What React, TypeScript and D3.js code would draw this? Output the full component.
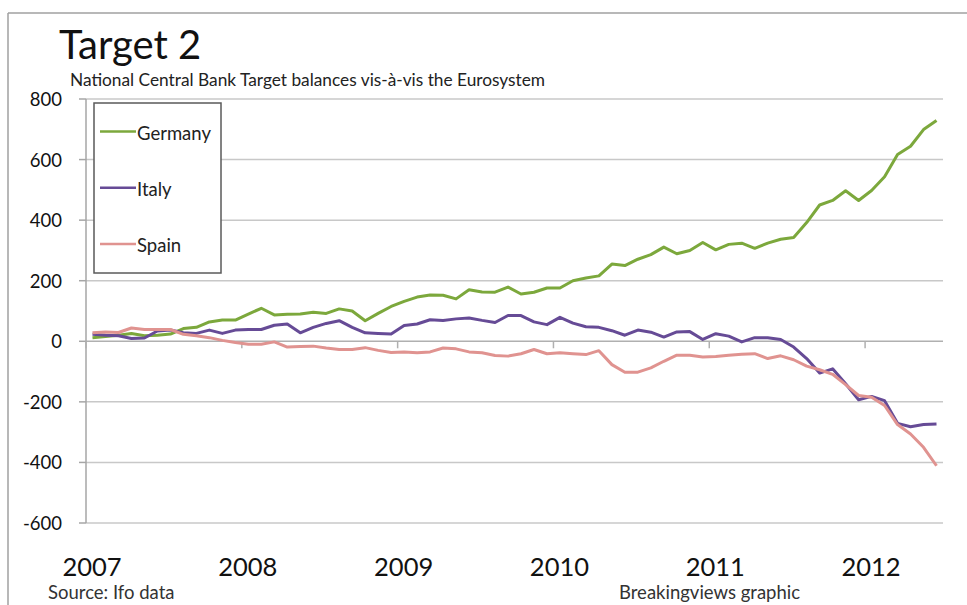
import React from "react";
import * as d3 from "d3";

const germany = [12, 16, 20, 26, 18, 20, 24, 42, 46, 64, 70, 70, 90, 109, 87, 89, 90, 96, 92, 107, 100, 68, 92, 115,
  132, 146, 153, 152, 140, 170, 163, 162, 179, 156, 162, 176, 176, 200, 209, 216, 255, 250, 271, 286, 311, 289, 300, 326,
  302, 320, 324, 307, 324, 337, 343, 392, 450, 465, 497, 465, 498, 543, 617, 644, 699, 729];
const italy = [23, 20, 18, 9, 11, 34, 37, 28, 26, 37, 26, 37, 39, 39, 53, 57, 28, 46, 59, 68, 46, 28, 26, 24,
  52, 57, 71, 69, 74, 77, 69, 62, 85, 85, 64, 55, 79, 60, 48, 46, 35, 20, 37, 30, 14, 31, 32, 6,
  25, 17, -2, 12, 12, 6, -19, -57, -105, -91, -140, -193, -182, -196, -271, -282, -275, -273];
const spain = [28, 31, 29, 44, 39, 39, 39, 23, 18, 12, 3, -4, -10, -10, -2, -19, -17, -16, -22, -27, -27, -21, -30, -37,
  -35, -38, -35, -22, -25, -35, -38, -47, -49, -41, -27, -41, -38, -41, -44, -31, -77, -102, -102, -88, -66, -46, -46, -52,
  -50, -46, -43, -41, -57, -48, -61, -82, -94, -109, -143, -179, -185, -212, -275, -306, -350, -411];

const seriesNames = ["Germany", "Italy", "Spain"];
const seriesColors = ["#7ca83c", "#664b96", "#e09390"];
const yearLabels = ["2007", "2008", "2009", "2010", "2011", "2012"];
const yTicks = [800, 600, 400, 200, 0, -200, -400, -600];

const title = "Target 2";
const subtitle = "National Central Bank Target balances vis-à-vis the Eurosystem";
const source = "Source: Ifo data";
const credit = "Breakingviews graphic";

const months = d3.timeMonth.range(new Date(2007, 0, 1), new Date(2012, 6, 1));

export default function App() {
  const W = 967, H = 605;
  const left = 86, right = 943, top = 99, bottom = 523;
  const font = "Lato, 'Open Sans', sans-serif";

  const x = d3.scaleBand<Date>().domain(months).range([left, right]).paddingInner(0).paddingOuter(0);
  const bw = x.bandwidth();
  const y = d3.scaleLinear().domain([-600, 800]).range([bottom, top]);

  const line = d3
    .line<number>()
    .x((_, i) => (x(months[i]) as number) + bw / 2)
    .y((d) => y(d));

  const data = [germany, italy, spain];
  const yearStarts = yearLabels.map((yr) => new Date(+yr, 0, 1));

  return (
    <svg width={W} height={H} style={{ position: "absolute", left: 0, top: 0, background: "#fff" }}>
      <rect x={0} y={0} width={W} height={H} fill="#fff" />
      {/* frame */}
      <line x1={8} y1={13} x2={W} y2={13} stroke="#a0a0a0" strokeWidth={1.5} />
      <line x1={8} y1={13} x2={8} y2={H} stroke="#a0a0a0" strokeWidth={1.5} />

      <text x={59} y={59} fontFamily={font} fontSize={40} fill="#111">{title}</text>
      <text x={70} y={86} fontFamily={font} fontSize={17.3} fill="#222">{subtitle}</text>

      {/* gridlines */}
      {yTicks.map((t) => (
        <g key={t}>
          <line x1={left} x2={right} y1={y(t)} y2={y(t)} stroke={t === 0 ? "#b0b0b0" : "#c8c8c8"} strokeWidth={1.5} />
          <line x1={left - 7} x2={left} y1={y(t)} y2={y(t)} stroke="#a6a6a6" strokeWidth={1.5} />
          <text x={62} y={y(t)} textAnchor="end" dominantBaseline="central" fontFamily={font} fontSize={18.5} fill="#111">
            {t}
          </text>
        </g>
      ))}
      {/* y axis */}
      <line x1={left} x2={left} y1={top} y2={bottom} stroke="#a6a6a6" strokeWidth={1.5} />
      {/* year ticks on zero line */}
      {yearStarts.map((d, i) => (
        <g key={i}>
          <line x1={x(d)} x2={x(d)} y1={y(0)} y2={y(0) + 7} stroke="#b0b0b0" strokeWidth={1.5} />
          <text x={(x(d) as number) + 6} y={576} textAnchor="middle" fontFamily={font} fontSize={25.5} fill="#111">
            {yearLabels[i]}
          </text>
        </g>
      ))}

      {/* series */}
      {data.map((s, k) => (
        <path key={k} d={line(s) || ""} fill="none" stroke={seriesColors[k]} strokeWidth={3} strokeLinejoin="round" />
      ))}

      {/* legend */}
      <rect x={94} y={103} width={127} height={170} fill="#fff" stroke="#5a5a5a" strokeWidth={1.5} />
      {seriesNames.map((n, k) => {
        const ly = 131.5 + k * 56.3;
        return (
          <g key={n}>
            <line x1={100} x2={136} y1={ly} y2={ly} stroke={seriesColors[k]} strokeWidth={2.5} />
            <text x={137} y={ly + 1} dominantBaseline="central" fontFamily={font} fontSize={18.5} fill="#222">
              {n}
            </text>
          </g>
        );
      })}

      <text x={48} y={599} fontFamily={font} fontSize={18.5} fill="#333">{source}</text>
      <text x={619} y={599} fontFamily={font} fontSize={18.5} fill="#333">{credit}</text>
    </svg>
  );
}
